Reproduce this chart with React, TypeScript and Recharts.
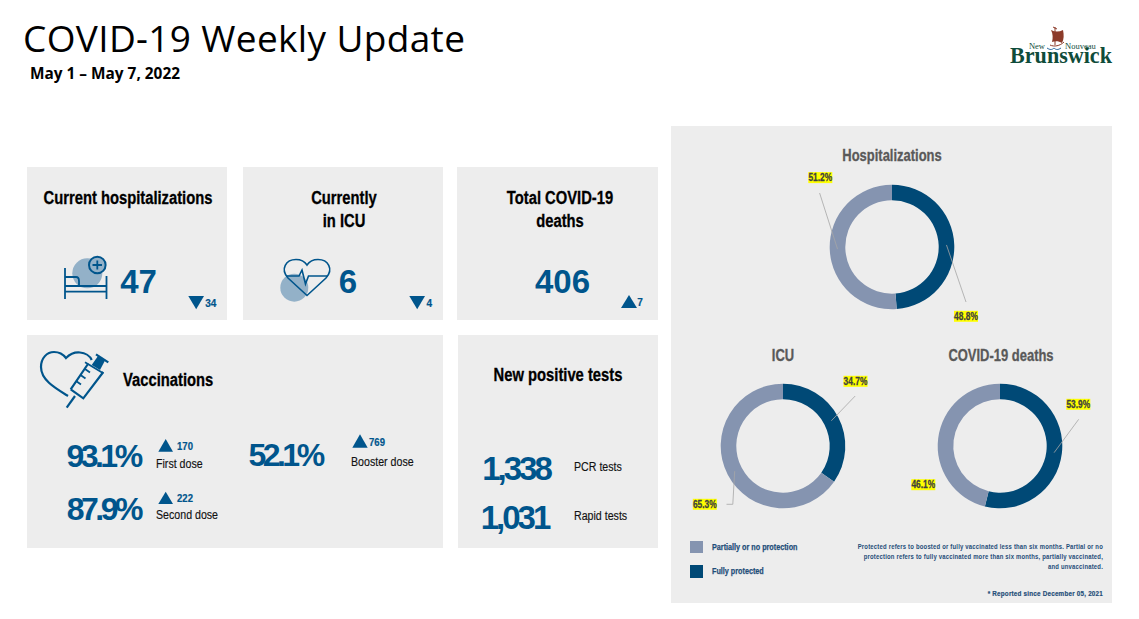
import type { CSSProperties, ReactNode } from "react";
import { PieChart, Pie, Cell } from "recharts";

const protectionNames = ["Fully protected", "Partially or no protection"];
const hospitalizationShares = [48.8, 51.2];
const icuShares = [34.7, 65.3];
const deathShares = [53.9, 46.1];

const NAVY = "#004976";
const SLATE = "#8594b0";
const BLUE = "#00558c";
const PANEL = "#ededed";
const ARIAL = "'Liberation Sans', sans-serif";

const INNER = 46.7;
const OUTER = 62.3;
const CHART_W = 230;
const CHART_H = 190;

type Txt = {
  x: number;
  y: number;
  children: ReactNode;
  align?: "left" | "center" | "right";
  squeeze?: number;
  style?: CSSProperties;
};

// no condensed font is installed, so narrow text is squeezed horizontally
const T = ({ x, y, children, align = "center", squeeze = 1, style }: Txt) => {
  const tx = align === "left" ? "0" : align === "right" ? "-100%" : "-50%";
  const origin = align === "left" ? "0 50%" : align === "right" ? "100% 50%" : "50% 50%";
  return (
    <div
      style={{
        position: "absolute",
        left: x,
        top: y,
        transform: `translate(${tx}, -50%) scaleX(${squeeze})`,
        transformOrigin: origin,
        whiteSpace: "nowrap",
        lineHeight: 1,
        ...style,
      }}
    >
      {children}
    </div>
  );
};

const Box = ({ x, y, w, h }: { x: number; y: number; w: number; h: number }) => (
  <div style={{ position: "absolute", left: x, top: y, width: w, height: h, background: PANEL }} />
);

const cardTitle: CSSProperties = {
  fontFamily: ARIAL,
  fontWeight: 700,
  fontSize: 18,
  color: "#000",
  WebkitTextStroke: "0.3px #000",
};
const bigNum: CSSProperties = { fontFamily: ARIAL, fontWeight: 700, fontSize: 33, color: BLUE };
const tightNum: CSSProperties = { ...bigNum, letterSpacing: -3 };
const pctNum: CSSProperties = { ...bigNum, fontSize: 32, letterSpacing: -3.5 };
const smallNum: CSSProperties = {
  fontFamily: ARIAL,
  fontWeight: 700,
  fontSize: 10,
  color: BLUE,
  WebkitTextStroke: "0.2px " + BLUE,
};
const doseLabel: CSSProperties = { fontFamily: ARIAL, fontSize: 12.5, color: "#111", WebkitTextStroke: "0.15px #111" };
const panelTitle: CSSProperties = {
  fontFamily: ARIAL,
  fontWeight: 700,
  fontSize: 16,
  color: "#595959",
  WebkitTextStroke: "0.3px #595959",
};
const note: CSSProperties = {
  fontFamily: ARIAL,
  fontWeight: 700,
  fontSize: 7.6,
  letterSpacing: 0.25,
  color: "#1f4e79",
};
const legendText: CSSProperties = {
  fontFamily: ARIAL,
  fontWeight: 700,
  fontSize: 9.5,
  color: "#1f4e79",
  WebkitTextStroke: "0.25px #1f4e79",
};

// where each percentage sits relative to the donut centre: label, optional elbow, line end
type Callout = { lx: number; ly: number; ex?: number; ey?: number; elbow?: [number, number] };

const makeLabel = (callouts: Callout[]) => (props: any) => {
  const { cx, cy, midAngle, index, value } = props;
  const c = callouts[index];
  const r = (INNER + OUTER) / 2;
  const a = (-midAngle * Math.PI) / 180;
  const sx = cx + r * Math.cos(a);
  const sy = cy + r * Math.sin(a);
  const lx = cx + c.lx;
  const ly = cy + c.ly;
  const pts = [`${sx},${sy}`];
  if (c.elbow) pts.push(`${cx + c.elbow[0]},${cy + c.elbow[1]}`);
  if (c.ex !== undefined && c.ey !== undefined) pts.push(`${cx + c.ex},${cy + c.ey}`);
  return (
    <g>
      {pts.length > 1 && <polyline points={pts.join(" ")} fill="none" stroke="#a6a6a6" strokeWidth={0.8} />}
      <rect x={lx - 12} y={ly - 5.5} width={24} height={11} fill="#ffff00" />
      <text
        transform={`translate(${lx} ${ly}) scale(0.84 1)`}
        textAnchor="middle"
        dominantBaseline="central"
        style={{ fontFamily: ARIAL, fontWeight: 700, fontSize: 10, fill: "#404040", stroke: "#404040", strokeWidth: 0.25 }}
      >
        {value.toFixed(1)}%
      </text>
    </g>
  );
};

const Donut = ({ cx, cy, shares, callouts }: { cx: number; cy: number; shares: number[]; callouts: Callout[] }) => {
  const rows = protectionNames.map((name, i) => ({ name, value: shares[i] }));
  return (
    <div style={{ position: "absolute", left: cx - CHART_W / 2, top: cy - CHART_H / 2 }}>
      <PieChart width={CHART_W} height={CHART_H} margin={{ top: 0, right: 0, bottom: 0, left: 0 }}>
        <Pie
          data={rows}
          dataKey="value"
          nameKey="name"
          cx={CHART_W / 2}
          cy={CHART_H / 2}
          innerRadius={INNER}
          outerRadius={OUTER}
          startAngle={90}
          endAngle={-270}
          stroke="none"
          labelLine={false}
          label={makeLabel(callouts)}
          isAnimationActive={false}
        >
          <Cell fill={NAVY} />
          <Cell fill={SLATE} />
        </Pie>
      </PieChart>
    </div>
  );
};

const hospCallouts: Callout[] = [
  { lx: 74, ly: 69.3, ex: 74, ey: 55 },
  { lx: -71.7, ly: -69.4, ex: -72.4, ey: -54 },
];
const icuCallouts: Callout[] = [
  { lx: 72.5, ly: -64.7, ex: 72.2, ey: -50 },
  { lx: -78.2, ly: 58.3, elbow: [-50.2, 58.3], ex: -56.5, ey: 58.3 },
];
const deathCallouts: Callout[] = [
  { lx: 78.3, ly: -41.7, ex: 78.7, ey: -26.7 },
  { lx: -76.7, ly: 38.7 },
];

const Icons = () => (
  <svg width={1139} height={619} style={{ position: "absolute", left: 0, top: 0 }}>
    {/* bed */}
    <circle cx={87.3} cy={273.3} r={15} fill="#93b1c8" />
    <g fill="none" stroke={BLUE} strokeWidth={1.8}>
      <path d="M65 268V299M106.5 276V299M65 286H106.5M65 291.7H106.5M65 277H76Q79 277 79 281V286" />
      <circle cx={97.3} cy={265} r={8.3} fill="#93b1c8" strokeWidth={2} />
      <path d="M92.5 265H102M97.3 260.5V269.5" />
    </g>
    {/* heart with pulse */}
    <circle cx={294.3} cy={287.7} r={14} fill="#93b1c8" />
    <g fill="none" stroke={BLUE} strokeWidth={1.6}>
      <path d="M307 295.5L288 278C280 269 286 259.5 296 259.5C301 259.5 305 262 307 265C309 262 313 259.5 318 259.5C328 259.5 334 269 326 278Z" />
      <path d="M286 276H299L302 270L305.5 284L308.5 276H328" />
    </g>
    {/* heart and syringe */}
    <g fill="none" stroke={BLUE} strokeWidth={2.2}>
      <path d="M68 396C55 388 41 380 41 367C41 358 47 352 54 352C59 352 63 354 66 358C70 354 75 352 80 352.5C85 353 90 356 91.7 360" />
      <path d="M66.7 407.7L75 396" />
      <path d="M70.7 389.3L88.3 363.5M103.3 372L83.3 398.3L70.7 389.3" />
      <path d="M85 362.3L103.3 373.3M76 381L81 384.5M80.5 375L85.5 378.5M85 369L90 372.5" strokeWidth={1.8} />
    </g>
    <path d="M91.7 365L98 356L105 360.5L100 370Z" fill={BLUE} />
    <path d="M96 354.3L108.3 362.3" stroke={BLUE} strokeWidth={2.2} />
    {/* trend triangles */}
    <g fill={BLUE}>
      <path d="M188.3 296H204L196.2 309.3Z" />
      <path d="M409.3 296H425L417.2 309.3Z" />
      <path d="M621 308H637L629 295Z" />
      <path d="M158.3 451.7H173L165.7 439Z" />
      <path d="M352.3 447.7H367.7L360 434.3Z" />
      <path d="M158.3 504H173L165.7 491.7Z" />
    </g>
    {/* logo */}
    <path d="M1051 30C1055 32 1059 32 1063 30C1064 35 1064 39 1062 43C1059 41 1055 41 1052 42C1053 38 1053 34 1051 30Z" fill="#8c3b2a" />
    <path d="M1053 27L1057 29M1055 27V45M1050 45C1054 47 1060 46 1064 42" fill="none" stroke="#8c3b2a" strokeWidth={1} />
    <path d="M1047 48C1050 50 1052 50 1054 48C1056 50 1058 50 1061 48" fill="none" stroke="#2c6aa0" strokeWidth={1} />
  </svg>
);

export default function App() {
  return (
    <div style={{ position: "absolute", left: 0, top: 0, width: 1139, height: 619, background: "#fff", overflow: "hidden" }}>
      <Box x={27} y={167} w={200} h={153} />
      <Box x={243} y={167} w={200} h={153} />
      <Box x={457} y={167} w={201} h={153} />
      <Box x={27} y={335} w={416} h={213} />
      <Box x={458} y={335} w={200} h={213} />
      <Box x={671} y={126} w={441} h={477} />

      <Icons />

      <T x={23} y={37} align="left" style={{ fontFamily: "'Open Sans', sans-serif", fontSize: 37, letterSpacing: 0.35, color: "#000" }}>
        COVID-19 Weekly Update
      </T>
      <T x={30} y={74} align="left" style={{ fontFamily: "'Open Sans', sans-serif", fontWeight: 700, fontSize: 15.4, color: "#000" }}>
        May 1 – May 7, 2022
      </T>

      <T x={1045} y={46} align="right" style={{ fontFamily: "'Liberation Serif', serif", fontSize: 8.5, color: "#0f4c3a" }}>New</T>
      <T x={1065} y={46} align="left" style={{ fontFamily: "'Liberation Serif', serif", fontSize: 8.5, color: "#0f4c3a" }}>Nouveau</T>
      <T x={1061} y={54.5} squeeze={0.92} style={{ fontFamily: "'Liberation Serif', serif", fontWeight: 700, fontSize: 24, color: "#0f4c3a" }}>Brunswick</T>

      <T x={127.5} y={198} squeeze={0.82} style={cardTitle}>Current hospitalizations</T>
      <T x={343.5} y={198} squeeze={0.82} style={cardTitle}>Currently</T>
      <T x={343.5} y={221} squeeze={0.82} style={cardTitle}>in ICU</T>
      <T x={560} y={198} squeeze={0.82} style={cardTitle}>Total COVID-19</T>
      <T x={560} y={221} squeeze={0.82} style={cardTitle}>deaths</T>

      <T x={138.5} y={281} style={bigNum}>47</T>
      <T x={348} y={281} style={bigNum}>6</T>
      <T x={562.5} y={281} style={bigNum}>406</T>
      <T x={210.7} y={304.3} style={smallNum}>34</T>
      <T x={429.3} y={304.3} style={smallNum}>4</T>
      <T x={640} y={303} style={smallNum}>7</T>

      <T x={123.3} y={380.3} align="left" squeeze={0.82} style={cardTitle}>Vaccinations</T>
      <T x={103} y={455.7} style={pctNum}>93.1%</T>
      <T x={285} y={455} style={pctNum}>52.1%</T>
      <T x={103.3} y={509} style={pctNum}>87.9%</T>
      <T x={185} y={446.7} squeeze={0.95} style={smallNum}>170</T>
      <T x={377.3} y={442.7} squeeze={0.95} style={smallNum}>769</T>
      <T x={185} y={498.7} squeeze={0.95} style={smallNum}>222</T>
      <T x={156} y={463.7} align="left" squeeze={0.85} style={doseLabel}>First dose</T>
      <T x={351.3} y={461.7} align="left" squeeze={0.85} style={doseLabel}>Booster dose</T>
      <T x={156} y={515.3} align="left" squeeze={0.85} style={doseLabel}>Second dose</T>

      <T x={558} y={375} squeeze={0.82} style={cardTitle}>New positive tests</T>
      <T x={516} y={468} style={tightNum}>1,338</T>
      <T x={514.5} y={517} style={tightNum}>1,031</T>
      <T x={574} y={467} align="left" squeeze={0.85} style={doseLabel}>PCR tests</T>
      <T x={574} y={516} align="left" squeeze={0.85} style={doseLabel}>Rapid tests</T>

      <T x={892} y={156} squeeze={0.81} style={panelTitle}>Hospitalizations</T>
      <T x={782.5} y={356} squeeze={0.81} style={panelTitle}>ICU</T>
      <T x={1001} y={356} squeeze={0.81} style={panelTitle}>COVID-19 deaths</T>

      <Donut cx={891.7} cy={246.7} shares={hospitalizationShares} callouts={hospCallouts} />
      <Donut cx={782.5} cy={446} shares={icuShares} callouts={icuCallouts} />
      <Donut cx={1000} cy={446} shares={deathShares} callouts={deathCallouts} />

      <div style={{ position: "absolute", left: 690, top: 541, width: 13, height: 12, background: SLATE }} />
      <div style={{ position: "absolute", left: 690, top: 565, width: 13, height: 13, background: NAVY }} />
      <T x={712} y={547} align="left" squeeze={0.76} style={legendText}>{protectionNames[1]}</T>
      <T x={712} y={571} align="left" squeeze={0.76} style={legendText}>{protectionNames[0]}</T>

      <T x={1102.5} y={546.7} align="right" squeeze={0.78} style={note}>Protected refers to boosted or fully vaccinated less than six months. Partial or no</T>
      <T x={1102.5} y={556.5} align="right" squeeze={0.78} style={note}>protection refers to fully vaccinated more than six months, partially vaccinated,</T>
      <T x={1102.5} y={567.3} align="right" squeeze={0.78} style={note}>and unvaccinated.</T>
      <T x={1102.5} y={594.3} align="right" squeeze={0.83} style={{ ...note, WebkitTextStroke: "0.2px #1f4e79" }}>* Reported since December 05, 2021</T>
    </div>
  );
}
